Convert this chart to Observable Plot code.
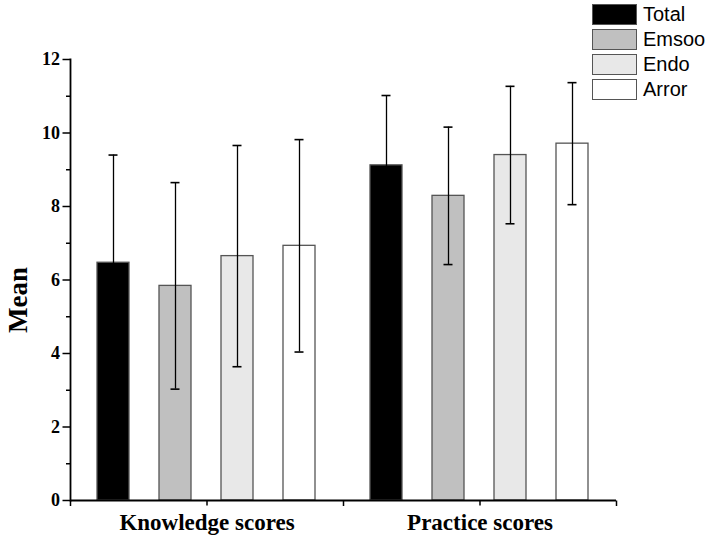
<!DOCTYPE html>
<html>
<head>
<meta charset="utf-8">
<script src="https://cdn.jsdelivr.net/npm/d3@7"></script>
<script src="https://cdn.jsdelivr.net/npm/@observablehq/plot@0.6"></script>
<style>
  html, body { margin: 0; padding: 0; background: #fff; }
  #wrap { position: relative; width: 709px; height: 540px; }
  #legend { position: absolute; left: 592px; top: 2px; font-family: "Liberation Sans", Arial, sans-serif; font-size: 20px; color: #000; }
  .row { display: flex; align-items: center; height: 25px; }
  .sw { width: 43px; height: 19px; border: 1.3px solid #555; box-sizing: content-box; margin-right: 6px; }
  svg g.ylab text { font: bold 18px "Liberation Serif", serif !important; }
</style>
</head>
<body>
<div id="wrap"><div id="legend"></div></div>
<script>
const groups = ["Knowledge scores", "Practice scores"];
const series = ["Total", "Emsoo", "Endo", "Arror"];
const knowledgeMean = [6.47, 5.84, 6.65, 6.93];
const knowledgeSD = [2.93, 2.81, 3.01, 2.89];
const practiceMean = [9.12, 8.29, 9.40, 9.71];
const practiceSD = [1.90, 1.87, 1.87, 1.66];
const colors = ["#000000", "#c0c0c0", "#e8e8e8", "#ffffff"];
const majorTicks = [0, 2, 4, 6, 8, 10, 12];
const minorTicks = [1, 3, 5, 7, 9, 11];

const data = [];
series.forEach((s, i) => {
  data.push({group: groups[0], series: s, mean: knowledgeMean[i], sd: knowledgeSD[i]});
  data.push({group: groups[1], series: s, mean: practiceMean[i], sd: practiceSD[i]});
});

const vtick = {draw(ctx) { ctx.moveTo(0, 0); ctx.lineTo(0, 5.5); }};
const serif = "Liberation Serif";

const chart = Plot.plot({
  width: 709,
  height: 540,
  marginLeft: 69,
  marginRight: 93,
  marginTop: 59,
  marginBottom: 40,
  style: {background: "transparent", color: "#000"},
  fx: {domain: groups, padding: 0, label: null, axis: null},
  x: {domain: series, paddingInner: 0.48, paddingOuter: 0.43, axis: null},
  y: {domain: [0, 12], label: null, axis: null},
  color: {domain: series, range: colors},
  marks: [
    Plot.barY(data, {fx: "group", x: "series", y: "mean", fill: "series", stroke: "#555", strokeWidth: 1.3}),
    Plot.ruleX(data, {fx: "group", x: "series", y1: d => d.mean - d.sd, y2: d => d.mean + d.sd, stroke: "#000", strokeWidth: 1.3}),
    Plot.tickY(data, {fx: "group", x: "series", y: d => d.mean + d.sd, inset: 11.5, stroke: "#000", strokeWidth: 1.6}),
    Plot.tickY(data, {fx: "group", x: "series", y: d => d.mean - d.sd, inset: 11.5, stroke: "#000", strokeWidth: 1.6}),
    Plot.ruleY([0], {stroke: "#000", strokeWidth: 1.8}),
    Plot.frame({anchor: "left", facetAnchor: "left", stroke: "#000", strokeWidth: 1.8}),
    Plot.axisY({ticks: majorTicks, anchor: "left", tickSize: 7.5, tickFormat: () => "", strokeWidth: 1.5, label: null}),
    Plot.axisY({ticks: minorTicks, anchor: "left", tickSize: 4, tickFormat: () => "", strokeWidth: 1.5, label: null}),
    Plot.text(majorTicks, {y: d => d, text: d => String(d), frameAnchor: "left", facetAnchor: "left", dx: -10.5, textAnchor: "end", lineAnchor: "middle", fontSize: 18, fontWeight: "bold", fontFamily: serif, fill: "#000", ariaLabel: "ylab"}),
    Plot.axisFx({anchor: "bottom", tickSize: 5.5, tickPadding: 8, fontSize: 23, fontWeight: "bold", fontFamily: serif, strokeWidth: 1.5, label: null}),
    Plot.dot([0], {frameAnchor: "bottom-left", symbol: vtick, stroke: "#000", fill: "none", strokeWidth: 1.5}),
    Plot.dot([groups[1]], {fx: d => d, frameAnchor: "bottom-right", symbol: vtick, stroke: "#000", fill: "none", strokeWidth: 1.5})
  ]
});

const wrap = document.getElementById("wrap");
wrap.insertBefore(chart, wrap.firstChild);

const svg = d3.select(chart);
svg.selectAll('g[aria-label="ylab"]').classed("ylab", true)
  .selectAll("text")
  .style("font-size", "18px").style("font-weight", "bold").style("font-family", "'Liberation Serif', serif");

// y-axis title
svg.append("text")
  .attr("transform", "translate(27,300) rotate(-90)")
  .attr("text-anchor", "middle")
  .attr("font-family", serif)
  .attr("font-weight", "bold")
  .attr("font-size", 27)
  .text("Mean");

const legend = d3.select("#legend");
series.forEach((s, i) => {
  const row = legend.append("div").attr("class", "row");
  row.append("div").attr("class", "sw").style("background", colors[i]);
  row.append("span").text(s);
});
</script>
</body>
</html>
